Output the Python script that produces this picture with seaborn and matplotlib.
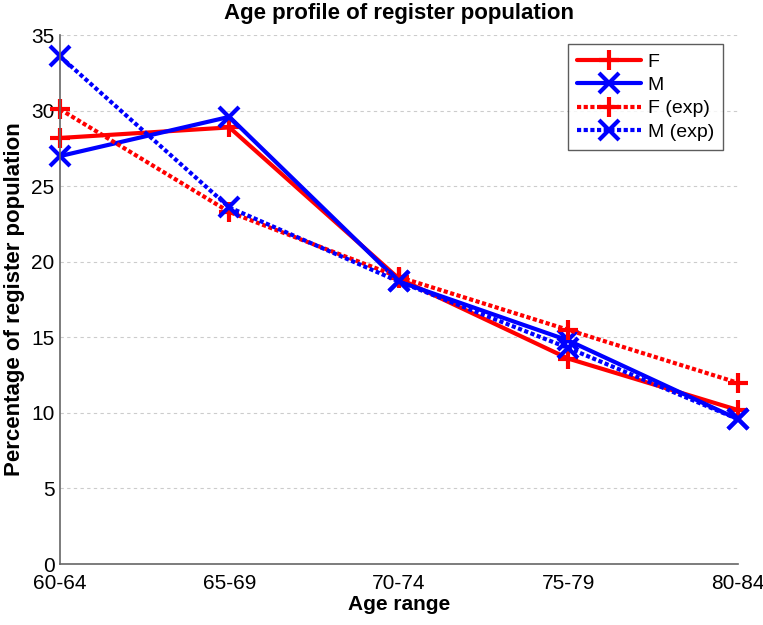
import numpy as np
import pandas as pd
import matplotlib
matplotlib.use("Agg")
import matplotlib.pyplot as plt
import seaborn as sns

# values
age_ranges = ["60-64", "65-69", "70-74", "75-79", "80-84"]
female = [28.2, 28.9, 18.9, 13.6, 10.2]
male = [27.0, 29.6, 18.7, 14.8, 9.6]
female_exp = [30.1, 23.3, 19.0, 15.5, 12.0]
male_exp = [33.6, 23.6, 18.7, 14.3, 9.6]
series_names = ["F", "M", "F (exp)", "M (exp)"]

sns.set_style("white")
plt.rcParams['font.family'] = ['Liberation Sans', 'DejaVu Sans']
plt.rcParams['text.color'] = 'black'
plt.rcParams['axes.labelcolor'] = 'black'
plt.rcParams['xtick.color'] = 'black'
plt.rcParams['ytick.color'] = 'black'

rows = []
for name, vals in zip(series_names, [female, male, female_exp, male_exp]):
    for i, v in enumerate(vals):
        rows.append({"series": name, "pos": i, "value": v})
df = pd.DataFrame(rows)

fig = plt.figure(figsize=(7.63, 6.25), dpi=100)
ax = fig.add_axes([0.0786, 0.0976, 0.888, 0.846])

styles = {
    "F": dict(color="#ff0000", marker="+", linestyle="-"),
    "M": dict(color="#0000ff", marker="x", linestyle="-"),
    "F (exp)": dict(color="#ff0000", marker="+", linestyle=(0, (1, 0.6))),
    "M (exp)": dict(color="#0000ff", marker="x", linestyle=(0, (1, 0.6))),
}
for name in series_names:
    st = styles[name]
    sns.lineplot(data=df[df.series == name], x="pos", y="value", ax=ax,
                 color=st["color"], marker=st["marker"], linestyle=st["linestyle"],
                 linewidth=3, markersize=14, markeredgewidth=3,
                 markeredgecolor=st["color"], label=name, clip_on=False)

ax.set_xlim(0, 4)
ax.set_ylim(0, 35)
ax.set_xticks(range(len(age_ranges)))
ax.set_xticklabels(age_ranges)
ax.set_yticks(np.arange(0, 36, 5))
ax.tick_params(direction="in", length=6, labelsize=15)
ax.tick_params(axis="x", pad=7)
ax.tick_params(axis="y", pad=4)
ax.tick_params(which="both", color="#777777")
ax.yaxis.grid(True, linestyle=(0, (3, 3)), color="#cccccc", linewidth=0.8)
ax.set_axisbelow(True)
for side in ["top", "right"]:
    ax.spines[side].set_visible(False)
for side in ["left", "bottom"]:
    ax.spines[side].set_color("#666666")
    ax.spines[side].set_linewidth(1.2)

ax.set_xlabel("Age range", fontsize=15, fontweight="bold", labelpad=2)
ax.set_ylabel("Percentage of register population", fontsize=16, fontweight="bold", labelpad=4)
ax.set_title("Age profile of register population", fontsize=16, fontweight="bold", pad=12)

leg = ax.legend(loc="upper right", bbox_to_anchor=(0.978, 0.983), fontsize=14,
                frameon=True, fancybox=False, handlelength=3.3, borderpad=0.45,
                labelspacing=0.3, handletextpad=0.35, borderaxespad=0)
leg.get_frame().set_edgecolor("#333333")
leg.get_frame().set_linewidth(1.0)

fig.savefig("out.png", dpi=100)
